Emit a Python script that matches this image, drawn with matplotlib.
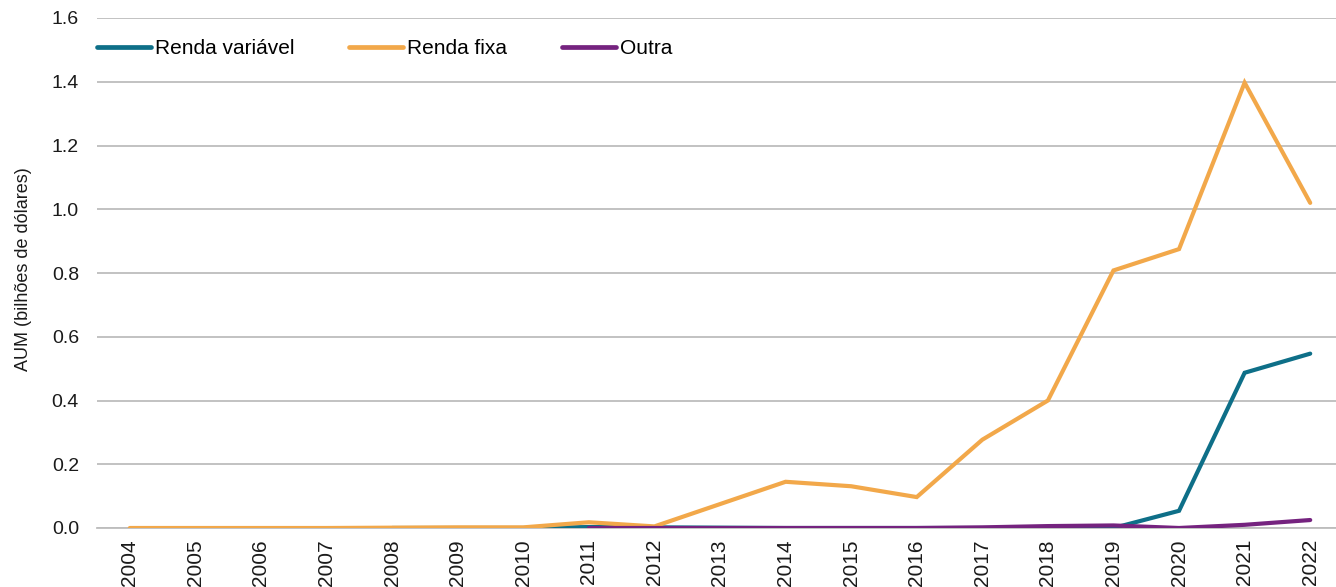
import matplotlib
matplotlib.use("Agg")
import matplotlib.pyplot as plt
import numpy as np

plt.rcParams['font.family'] = ['Liberation Sans', 'DejaVu Sans']

years = [str(y) for y in range(2004, 2023)]
renda_variavel = [np.nan, np.nan, np.nan, np.nan, 0.0, 0.0, 0.0, 0.003, 0.002, 0.001,
                  0.0, 0.0, 0.0, 0.0, 0.0, 0.0, 0.054, 0.487, 0.547]
renda_fixa = [0.0, 0.0, 0.0, 0.0, 0.001, 0.002, 0.002, 0.018, 0.005, 0.075,
              0.145, 0.131, 0.097, 0.277, 0.400, 0.808, 0.875, 1.397, 1.020]
outra = [np.nan, np.nan, np.nan, np.nan, np.nan, np.nan, np.nan, 0.0, 0.0, 0.0,
         0.0, 0.0, 0.0, 0.002, 0.006, 0.008, 0.0, 0.010, 0.025]
y_ticks = [0.0, 0.2, 0.4, 0.6, 0.8, 1.0, 1.2, 1.4, 1.6]

W, H = 1336, 587
fig = plt.figure(figsize=(W / 100, H / 100), dpi=100)
left, right, top, bottom = 97, 1343, 18, 528
ax = fig.add_axes([left / W, 1 - bottom / H, (right - left) / W, (bottom - top) / H])

x = np.arange(len(years))
lw = 3.0
ax.plot(x, renda_variavel, color='#0E6F88', lw=lw, label='Renda variável', zorder=3,
        solid_capstyle='round', solid_joinstyle='miter')
ax.plot(x, renda_fixa, color='#F2A84A', lw=lw, label='Renda fixa', zorder=4,
        solid_capstyle='round', solid_joinstyle='miter')
ax.plot(x, outra, color='#75237F', lw=lw, label='Outra', zorder=5,
        solid_capstyle='round', solid_joinstyle='miter')

ax.set_xlim(-0.5, len(years) - 0.5)
ax.set_ylim(0, 1.6)
ax.set_yticks(y_ticks)
ax.set_yticklabels([f"{v:.1f}" for v in y_ticks], fontsize=14, color='#1a1a1a')
ax.set_xticks(x)
ax.set_xticklabels(years, rotation=90, fontsize=15, color='#1a1a1a')
ax.tick_params(axis='both', length=0)
ax.tick_params(axis='y', pad=13)
ax.tick_params(axis='x', pad=8)

ax.grid(axis='y', color='#BDBDBD', lw=1.3, zorder=0)
ax.set_axisbelow(True)
for side in ['top', 'right', 'left']:
    ax.spines[side].set_visible(False)
ax.spines['bottom'].set_color('#BDBDBD')
ax.spines['bottom'].set_linewidth(1.3)

ax.set_ylabel('AUM (bilhões de dólares)', fontsize=13, color='#1a1a1a')
ax.yaxis.set_label_coords(-0.052, 0.508)

leg = ax.legend(loc='center left', bbox_to_anchor=(0.0, (528 - 49) / 510), ncol=3,
                frameon=False, fontsize=15, handlelength=2.6, handletextpad=0.2,
                columnspacing=2.6, borderaxespad=0, borderpad=0)
for line in leg.get_lines():
    line.set_linewidth(3.4)

fig.savefig('out.png', dpi=100)
